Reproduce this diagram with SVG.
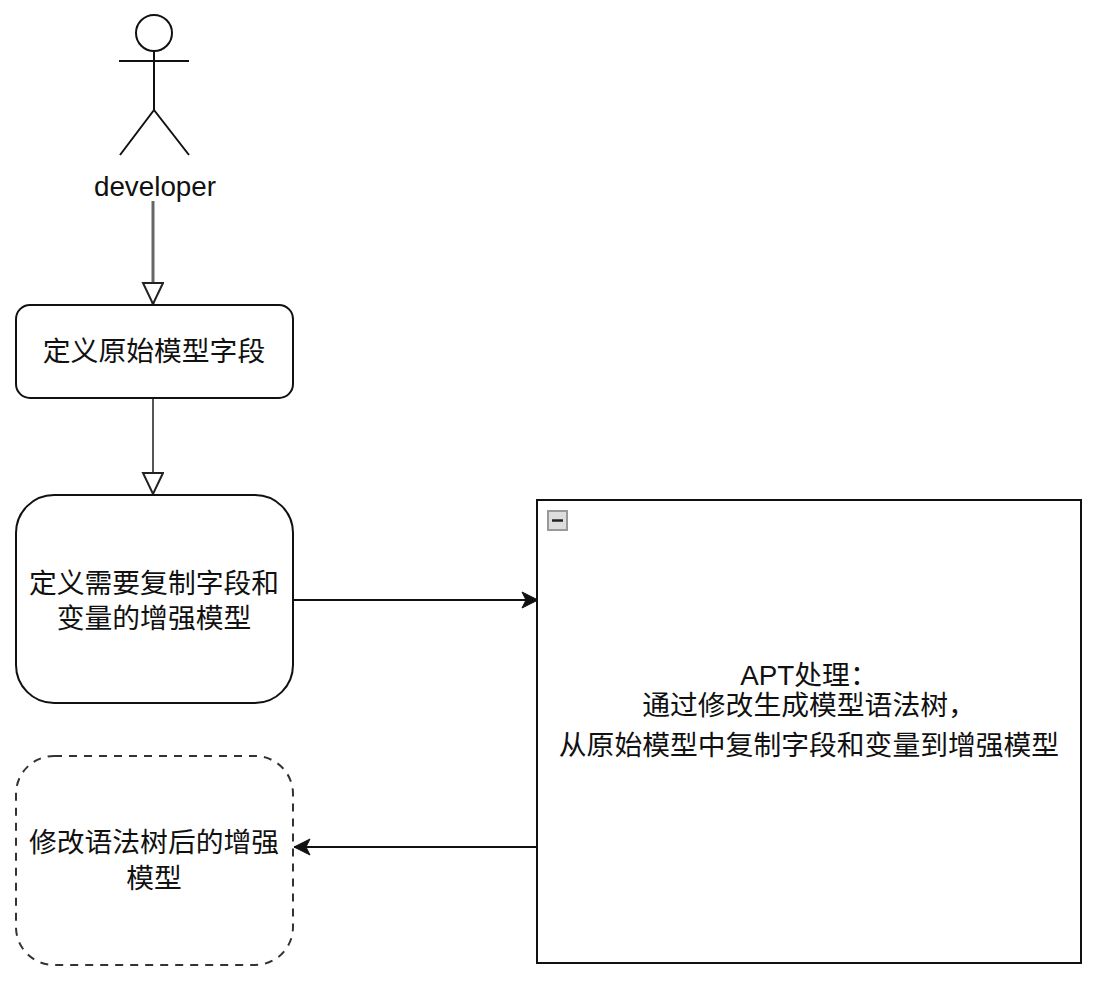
<svg xmlns="http://www.w3.org/2000/svg" width="1096" height="982" viewBox="0 0 1096 982">
<defs>
<marker id="open" markerUnits="userSpaceOnUse" markerWidth="26" markerHeight="26" refX="22" refY="11" orient="auto"><path d="M1 1 L22 11 L1 21 Z" fill="#fff" stroke="#222" stroke-width="2"/></marker>
<marker id="solid" markerUnits="userSpaceOnUse" markerWidth="22" markerHeight="20" refX="17" refY="9" orient="auto"><path d="M1 1 L17 9 L1 17 L5 9 Z" fill="#111" stroke="#111" stroke-width="1"/></marker>
</defs>
<style>
text{font-family:"Liberation Sans","Noto Sans CJK SC",sans-serif;font-size:27.800px;fill:#111;text-anchor:middle}
.b{fill:#fff;stroke:#111;stroke-width:2}
.c{fill:none;stroke:#111;stroke-width:2}
</style>
<rect width="1096" height="982" fill="#fff"/>
<g id="connectors">
<path class="c" d="M153 201V304" style="stroke:#666;stroke-width:3" marker-end="url(#open)"/>
<path class="c" d="M153 398V494" style="stroke:#555" marker-end="url(#open)"/>
<path class="c" d="M294 600H538" marker-end="url(#solid)"/>
<path class="c" d="M536 847H294" marker-end="url(#solid)"/>
</g>
<g id="developer">
<circle class="b" cx="154" cy="33" r="18"/>
<path class="c" d="M154 51V110M119 61H189M154 110L120 155M154 110L189 155"/>
<text x="155" y="196">developer</text>
</g>
<g id="node-define-original">
<rect class="b" x="16" y="305" width="277" height="93" rx="14"/>
<text x="154" y="361">定义原始模型字段</text>
</g>
<g id="node-define-enhanced">
<rect class="b" x="16" y="495" width="277" height="208" rx="38"/>
<text x="154" y="593">定义需要复制字段和</text>
<text x="154" y="628">变量的增强模型</text>
</g>
<g id="node-apt">
<rect class="b" x="537" y="500" width="544" height="463"/>
<rect x="548" y="511" width="19" height="19" fill="#ddd" stroke="#999" stroke-width="2"/>
<path d="M552 520.500H563" stroke="#222" stroke-width="2.500"/>
<text x="809" y="685">APT处理：</text>
<text x="809" y="715">通过修改生成模型语法树，</text>
<text x="809" y="755">从原始模型中复制字段和变量到增强模型</text>
</g>
<g id="node-result">
<rect class="b" x="16" y="756" width="277" height="209" rx="38" stroke-dasharray="8 7" style="stroke:#333"/>
<text x="154" y="852">修改语法树后的增强</text>
<text x="154" y="888">模型</text>
</g>
</svg>
